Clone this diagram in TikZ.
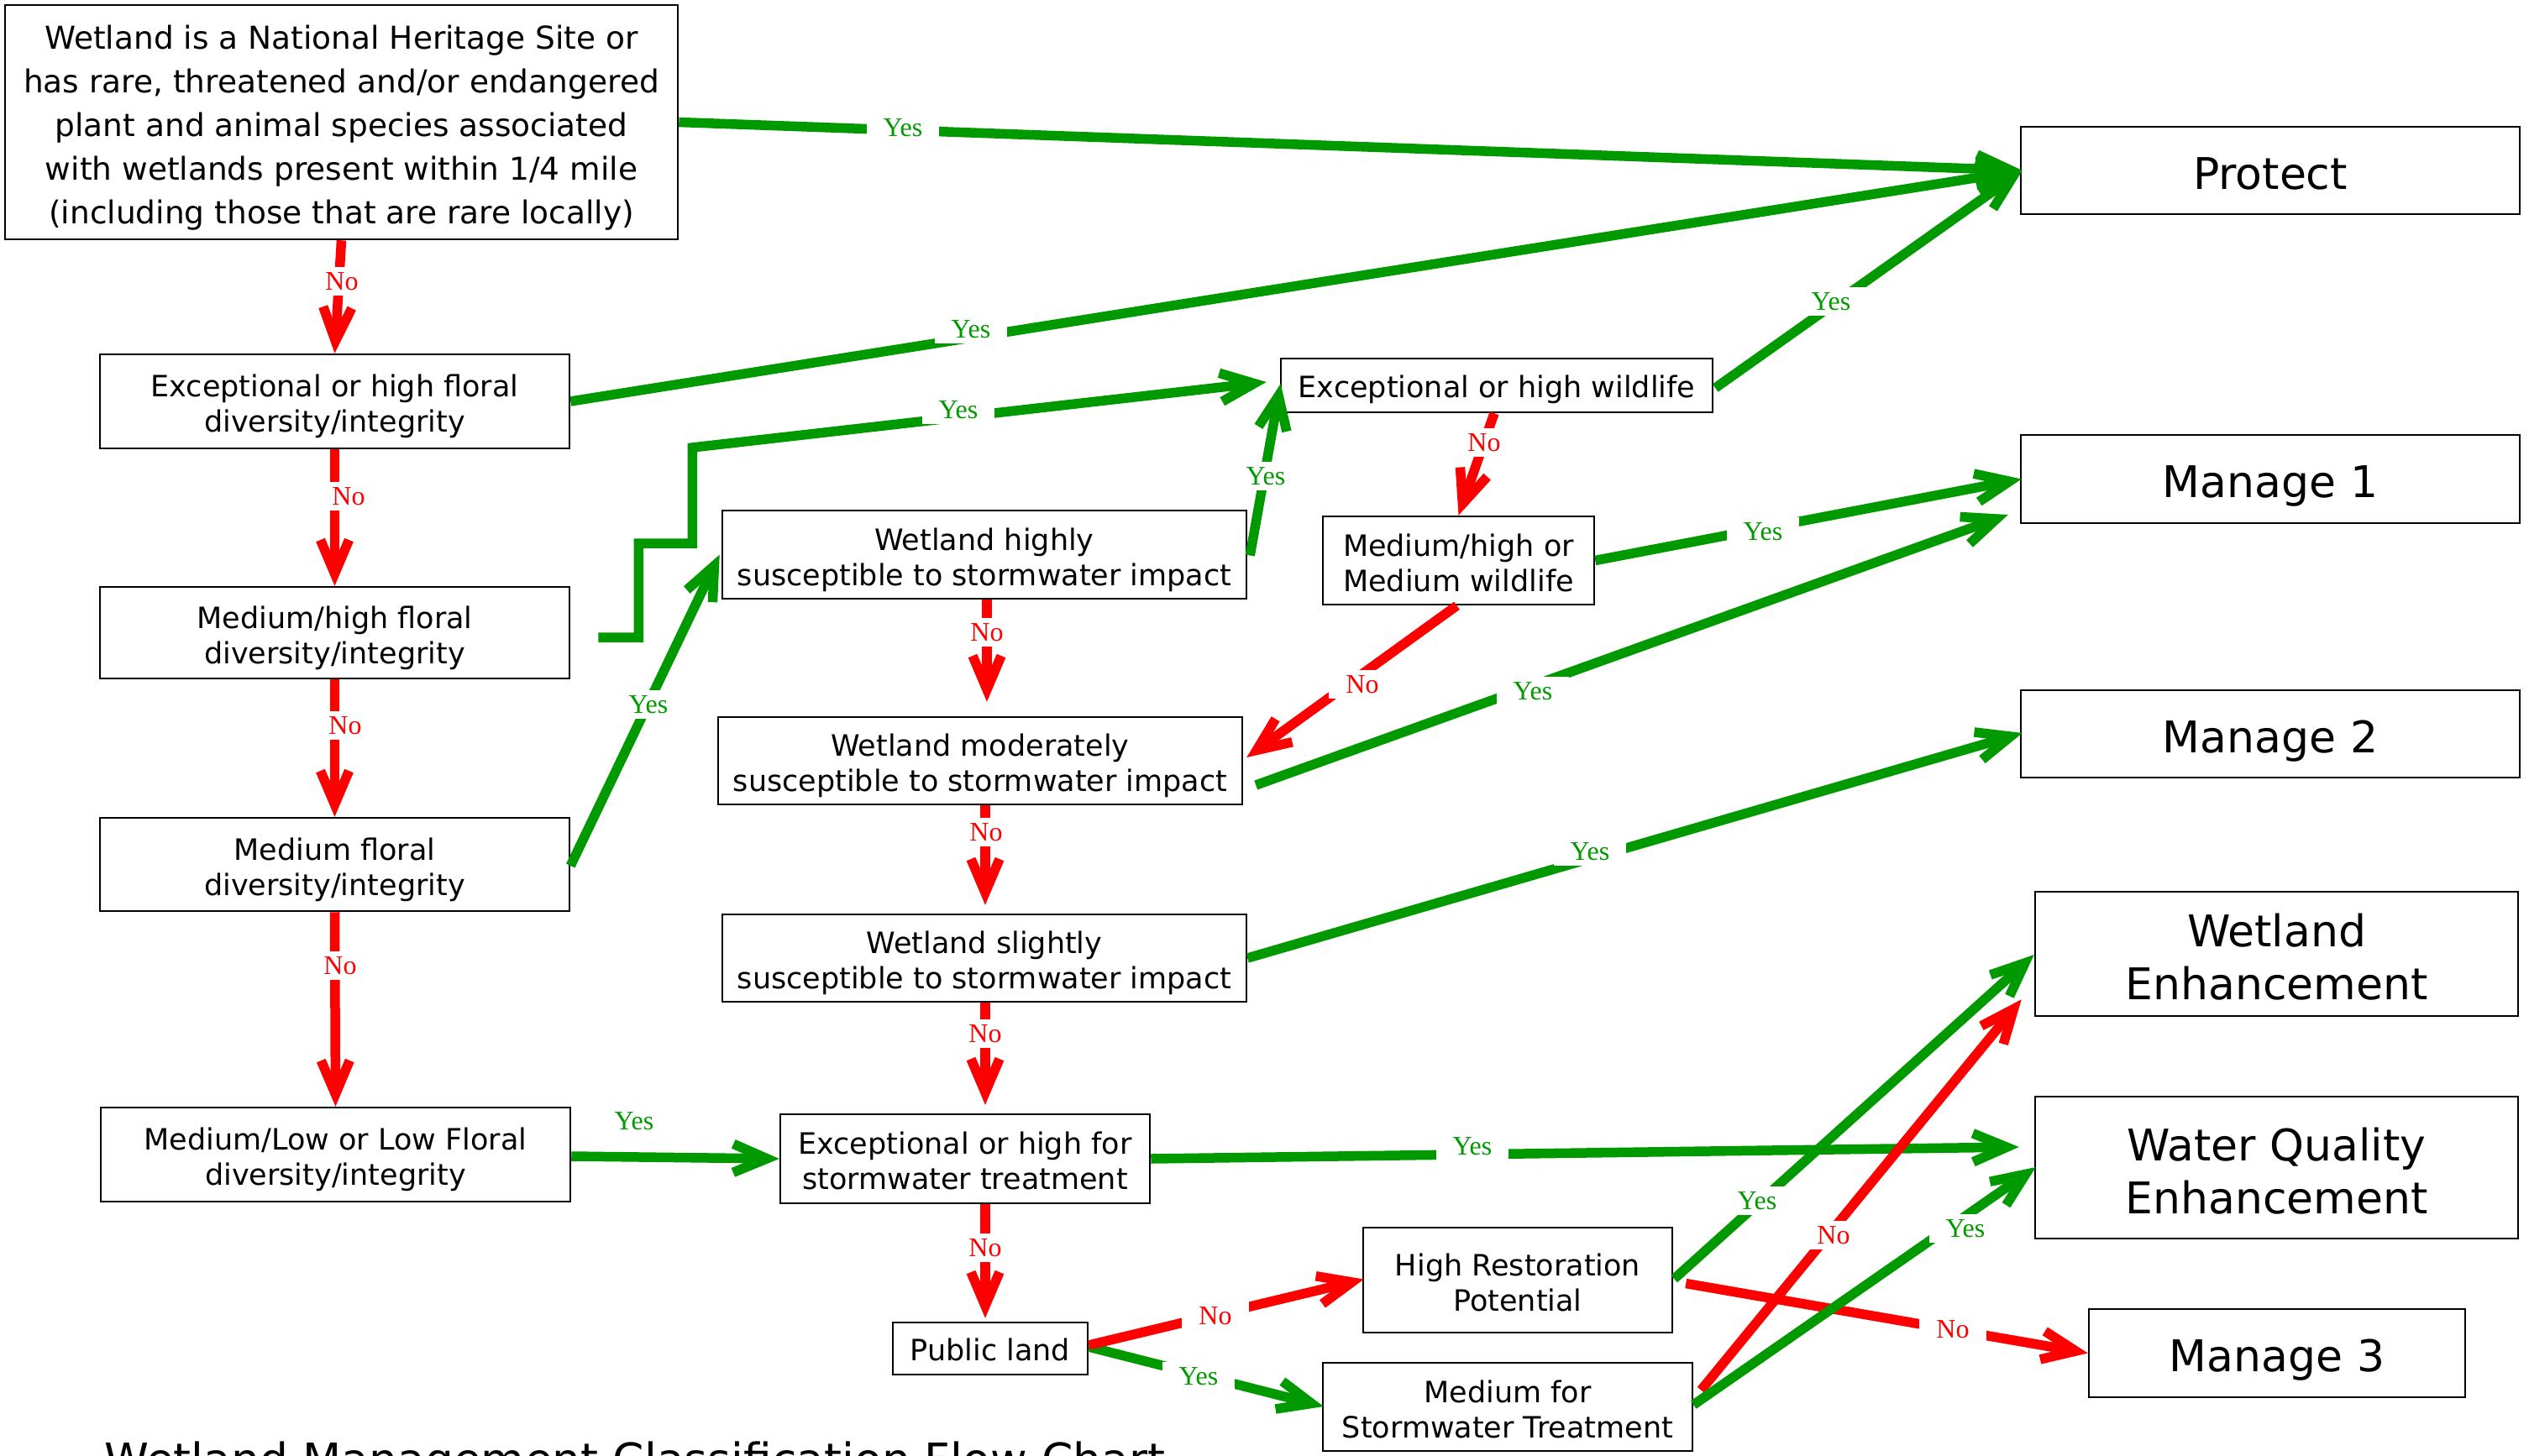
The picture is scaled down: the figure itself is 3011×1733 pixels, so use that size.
\documentclass[tikz,border=0pt]{standalone}
\usepackage{fontspec}
\setmainfont{DejaVu Sans}
\newfontfamily\lblfont{Liberation Serif}
\usetikzlibrary{arrows.meta,calc}
\definecolor{yesgreen}{RGB}{0,153,0}
\definecolor{nored}{RGB}{255,0,0}
% fixed first-line height and last-line depth, so every box centres its lines alike
\newcommand\tstr{\rule{0pt}{1.15em}}
\newcommand\bstr{\rule[-0.25em]{0pt}{0pt}}
\begin{document}
\begin{tikzpicture}[x=1pt,y=-1pt,
  box/.style={draw=black,line width=2.5pt,fill=white,inner sep=0pt,align=center,
    font=\fontsize{35}{42}\selectfont},
  bigbox/.style={box,font=\fontsize{52}{63}\selectfont},
  flow/.style={line width=11.5pt,-{Straight Barb[length=40pt,width=34pt]}},
  yes/.style={flow,draw=yesgreen},
  no/.style={flow,draw=nored},
  lbl/.style={fill=white,inner xsep=20pt,inner ysep=6pt,
    font=\lblfont\fontsize{32}{32}\selectfont},
  ylbl/.style={lbl,text=yesgreen},
  nlbl/.style={lbl,text=nored}]

\clip (0,0) rectangle (3011,1733);

% decision boxes, left column
\node[box,minimum width=801pt,minimum height=279pt,font=\fontsize{37.5}{52}\selectfont]
  (her) at (406.5,145.5) {\tstr Wetland is a National Heritage Site or\\
  has rare, threatened and/or endangered\\
  plant and animal species associated\\
  with wetlands present within 1/4 mile\\
  (including those that are rare locally)\bstr};
\node[box,minimum width=559pt,minimum height=112pt] (excF) at (398.5,478)
  {\tstr Exceptional or high floral\\diversity/integrity\bstr};
\node[box,minimum width=559pt,minimum height=109pt] (mhF) at (398.5,753.5)
  {\tstr Medium/high floral\\diversity/integrity\bstr};
\node[box,minimum width=559pt,minimum height=111pt] (mF) at (398.5,1029.5)
  {\tstr Medium floral\\diversity/integrity\bstr};
\node[box,minimum width=559pt,minimum height=112pt] (mlF) at (399.5,1375)
  {\tstr Medium/Low or Low Floral\\diversity/integrity\bstr};

% decision boxes, middle
\node[box,minimum width=624pt,minimum height=105pt] (wHi) at (1172,660.5)
  {\tstr Wetland highly\\susceptible to stormwater impact\bstr};
\node[box,minimum width=624pt,minimum height=104pt] (wMod) at (1167,906)
  {\tstr Wetland moderately\\susceptible to stormwater impact\bstr};
\node[box,minimum width=624pt,minimum height=104pt] (wSl) at (1172,1141)
  {\tstr Wetland slightly\\susceptible to stormwater impact\bstr};
\node[box,minimum width=440pt,minimum height=106pt] (exS) at (1149,1380)
  {\tstr Exceptional or high for\\stormwater treatment\bstr};
\node[box,minimum width=232pt,minimum height=62pt] (pub) at (1179,1606)
  {\rule{0pt}{1.1em}Public land\bstr};
\node[box,minimum width=514pt,minimum height=64pt] (exW) at (1782,459)
  {\rule{0pt}{1.1em}Exceptional or high wildlife\bstr};
\node[box,minimum width=323pt,minimum height=105pt] (mhW) at (1736.5,667.5)
  {\tstr Medium/high or\\Medium wildlife\bstr};
\node[box,minimum width=368pt,minimum height=125pt] (hR) at (1807,1524.5)
  {\tstr High Restoration\\Potential\bstr};
\node[box,minimum width=440pt,minimum height=105pt] (mS) at (1795,1675.5)
  {\tstr Medium for\\Stormwater Treatment\bstr};

% outcome boxes
\node[bigbox,minimum width=594pt,minimum height=104pt] (prot) at (2703,203)
  {\rule{0pt}{1.1em}Protect\bstr};
\node[bigbox,minimum width=594pt,minimum height=105pt] (man1) at (2703,570.5)
  {\rule{0pt}{1.1em}Manage 1\bstr};
\node[bigbox,minimum width=594pt,minimum height=104pt] (man2) at (2703,874)
  {\rule{0pt}{1.1em}Manage 2\bstr};
\node[bigbox,minimum width=575pt,minimum height=148pt] (wEnh) at (2710.5,1136)
  {\tstr Wetland\\Enhancement\bstr};
\node[bigbox,minimum width=575pt,minimum height=169pt] (wq) at (2710.5,1390.5)
  {\tstr Water Quality\\Enhancement\bstr};
\node[bigbox,minimum width=448pt,minimum height=105pt] (man3) at (2711,1611.5)
  {\rule{0pt}{1.1em}Manage 3\bstr};

% caption along the lower edge
\node[anchor=base west,inner sep=0pt,font=\fontsize{53.5}{60}\selectfont] (title)
  at (124,1757) {Wetland Management Classification Flow Chart};

% "Yes" connectors
\draw[yes] (her.east) -- ($(prot.west)+(3,0)$);
\draw[yes] (excF.east) -- ($(prot.west)+(3,0)$);
\draw[yes] ($(mhF.east)+(33,5.5)$) -- ++(48,0) |- ++(64,-112) -- ++(0,-114)
  -- ($(exW.west)+(-16,-4)$);
\draw[yes] ($(mF.east)+(0,1.5)$) -- ($(wHi.west)+(-2,0)$);
\draw[yes] ($(wHi.east)+(3,1)$) -- ($(exW.west)+(1,-2)$);
\draw[yes] ($(exW.east)+(2,3)$) -- ($(prot.west)+(3,0)$);
\draw[yes] (mhW.east) -- ($(man1.west)+(2,0)$);
\draw[yes] ($(wMod.east)+(15,29)$) -- ($(man1.west)+(-14,42.5)$);
\draw[yes] (wSl.east) -- ($(man2.west)+(3,-1)$);
\draw[yes] ($(mlF.east)+(0,2)$) -- (exS.west);
\draw[yes] (exS.east) -- ($(wq.west)+(-18,-24.5)$);
\draw[yes] ($(pub.east)+(0,-2)$) -- ($(mS.west)+(2,-0.5)$);
\draw[yes] ($(hR.east)+(1,-1.5)$) -- ($(wEnh.west)+(0,1)$);

% "No" connectors
\draw[no] (her.south) -- (excF.north);
\draw[no] (excF.south) -- (mhF.north);
\draw[no] (mhF.south) -- (mF.north);
\draw[no] (mF.south) -- (mlF.north);
\draw[no] ($(wHi.south)+(3,0)$) -- ($(wMod.north)+(8,-17)$);
\draw[no] ($(wMod.south)+(6,0)$) -- ($(wSl.north)+(1,-10)$);
\draw[no] ($(wSl.south)+(1,0)$) -- ($(exS.north)+(24,-10)$);
\draw[no] ($(exS.south)+(24,0)$) -- ($(pub.north)+(-6,-4)$);
\draw[no] ($(exW.south)+(-3,0)$) -- (mhW.north);
\draw[no] ($(mhW.south)+(-2,0)$) -- ($(wMod.east)+(4,-4)$);
\draw[no] ($(pub.east)+(0,-4)$) -- ($(hR.west)+(2,-1)$);
\draw[no] ($(hR.east)+(15,4)$) -- (man3.west);
\draw[no] ($(mS.east)+(9,-20)$) -- ($(wEnh.south west)+(-15,-21)$);
\draw[yes] ($(mS.east)+(0,-2.5)$) -- ($(wq.west)+(2,-0.5)$);

% labels
\node[ylbl] (y1) at (1075,152) {Yes};
\node[ylbl] (y2) at (1156,392) {Yes};
\node[ylbl] (y3) at (1141,488) {Yes};
\node[ylbl] (y4) at (772,839) {Yes};
\node[ylbl] (y5) at (1507,567) {Yes};
\node[ylbl] (y6) at (2180,359) {Yes};
\node[ylbl] (y7) at (2099,633) {Yes};
\node[ylbl] (y8) at (1825,823) {Yes};
\node[ylbl] (y9) at (1893,1014) {Yes};
\node[ylbl] (y10) at (755,1335) {Yes};
\node[ylbl] (y11) at (1753,1365) {Yes};
\node[ylbl] (y12) at (1427,1639) {Yes};
\node[ylbl] (y13) at (2092,1430) {Yes};
\node[ylbl] (y14) at (2340,1463) {Yes};

\node[nlbl] (n1) at (407,335) {No};
\node[nlbl] (n2) at (415,591) {No};
\node[nlbl] (n3) at (411,864) {No};
\node[nlbl] (n4) at (405,1150) {No};
\node[nlbl] (n5) at (1175,753) {No};
\node[nlbl] (n6) at (1174,991) {No};
\node[nlbl] (n7) at (1173,1231) {No};
\node[nlbl] (n8) at (1173,1486) {No};
\node[nlbl] (n9) at (1767,527) {No};
\node[nlbl] (n10) at (1622,815) {No};
\node[nlbl] (n11) at (1447,1567) {No};
\node[nlbl] (n12) at (2325,1583) {No};
\node[nlbl] (n13) at (2183,1471) {No};
\end{tikzpicture}
\end{document}
